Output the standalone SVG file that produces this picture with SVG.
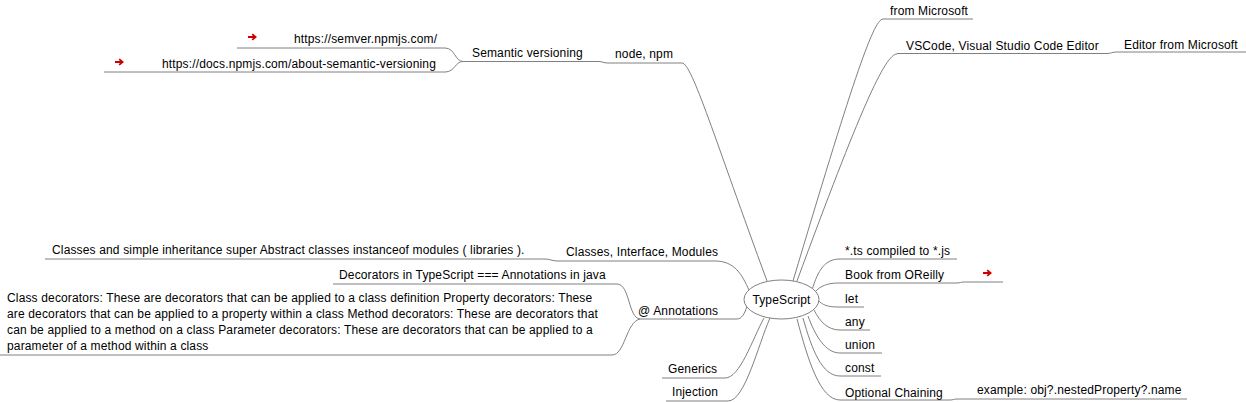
<svg xmlns="http://www.w3.org/2000/svg" width="1246" height="402" viewBox="0 0 1246 402">
<style>
text{font-family:"Liberation Sans",Arial,sans-serif;font-size:12px;fill:#000;letter-spacing:0.15px}
.u{stroke:#808080;stroke-width:1;fill:none}
.e{stroke:#808080;stroke-width:1;fill:none}
.lnk{stroke:#cc0000;stroke-width:1.8;fill:none}
</style>
<defs>
<g id="arrow"><path class="lnk" d="M0 3.5 H7 M4.2 0.6 L7.6 3.5 L4.2 6.4"/></g>
</defs>
<rect width="1246" height="402" fill="#fff"/>
<g id="connectors">
<path class="e" d="M883 19 C873 19 850 90 793 281"/>
<path class="e" d="M897 54 C885 54 860 110 797 281"/>
<path class="e" d="M1107 53.5 C1111 53.5 1112 52 1117 52"/>
<path class="e" d="M682 63 C692 63 715 140 767 281"/>
<path class="e" d="M598 61.5 C603 61.5 603 63 608 63"/>
<path class="e" d="M463 61.5 C455 61.5 455 48 445 48"/>
<path class="e" d="M463 61.5 C455 61.5 455 72 445 72"/>
<path class="e" d="M715 261 C735 261 742 275 749 290"/>
<path class="e" d="M545 259 C550 259 552 261 558 261"/>
<path class="e" d="M737 319 C742 319 745 313 747 306"/>
<path class="e" d="M617 284 C630 284 628 318 640 319"/>
<path class="e" d="M612 355 C625 355 626 322 640 319"/>
<path class="e" d="M725 378 C740 378 752 340 764 318"/>
<path class="e" d="M728 401 C745 401 758 345 770 318"/>
<path class="e" d="M812 290 C818 270 825 259 840 259"/>
<path class="e" d="M815 292 C820 286 828 283 838 283"/>
<path class="e" d="M957 283 C960 283 961 282 964 282"/>
<path class="e" d="M818 300 C822 305 828 307 838 307"/>
<path class="e" d="M814 310 C820 322 828 330 840 330"/>
<path class="e" d="M808 316 C815 335 825 353 840 353"/>
<path class="e" d="M803 318 C812 350 822 376 840 376"/>
<path class="e" d="M797 319 C808 360 820 400 840 400"/>
<path class="e" d="M950 400 C953 400 954 399 957 399"/>
</g>
<g id="root">
<ellipse cx="781.5" cy="299.5" rx="37.5" ry="19.5" fill="#fff" stroke="#808080"/>
<text x="781.5" y="304" text-anchor="middle">TypeScript</text>
</g>
<g id="from-microsoft"><line class="u" x1="883" y1="19" x2="973" y2="19"/><text x="890" y="15">from Microsoft</text></g>
<g id="vscode"><line class="u" x1="897" y1="53.5" x2="1107" y2="53.5"/><text x="906" y="50">VSCode, Visual Studio Code Editor</text></g>
<g id="editor-from-microsoft"><line class="u" x1="1117" y1="52" x2="1246" y2="52"/><text x="1124" y="49">Editor from Microsoft</text></g>
<g id="node-npm"><line class="u" x1="608" y1="63" x2="682" y2="63"/><text x="615" y="58">node, npm</text></g>
<g id="semantic-versioning"><line class="u" x1="463" y1="61.5" x2="598" y2="61.5"/><text x="472" y="57">Semantic versioning</text></g>
<g id="semver-link"><line class="u" x1="237" y1="48" x2="445" y2="48"/><use href="#arrow" x="248" y="33.5"/><text x="294" y="43">https://semver.npmjs.com/</text></g>
<g id="docs-link"><line class="u" x1="104" y1="72" x2="445" y2="72"/><use href="#arrow" x="115" y="58.5"/><text x="162" y="68">https://docs.npmjs.com/about-semantic-versioning</text></g>
<g id="classes-interface-modules"><line class="u" x1="558" y1="261" x2="715" y2="261"/><text x="566" y="256">Classes, Interface, Modules</text></g>
<g id="classes-detail"><line class="u" x1="45" y1="259" x2="545" y2="259"/><text x="52" y="254">Classes and simple inheritance super Abstract classes instanceof modules ( libraries ).</text></g>
<g id="annotations"><line class="u" x1="640" y1="319" x2="737" y2="319"/><text x="638" y="315">@ Annotations</text></g>
<g id="decorators-java"><line class="u" x1="333" y1="284" x2="617" y2="284"/><text x="339" y="279">Decorators in TypeScript === Annotations in java</text></g>
<g id="class-decorators"><line class="u" x1="0" y1="355" x2="612" y2="355"/>
<text x="7" y="302">Class decorators: These are decorators that can be applied to a class definition Property decorators: These</text>
<text x="7" y="318">are decorators that can be applied to a property within a class Method decorators: These are decorators that</text>
<text x="7" y="334">can be applied to a method on a class Parameter decorators: These are decorators that can be applied to a</text>
<text x="7" y="350">parameter of a method within a class</text></g>
<g id="generics"><line class="u" x1="662" y1="378" x2="725" y2="378"/><text x="668" y="373">Generics</text></g>
<g id="injection"><line class="u" x1="666" y1="401" x2="728" y2="401"/><text x="672" y="396">Injection</text></g>
<g id="ts-compiled"><line class="u" x1="840" y1="259" x2="957" y2="259"/><text x="845" y="255">*.ts compiled to *.js</text></g>
<g id="book-oreilly"><line class="u" x1="838" y1="283" x2="957" y2="283"/><text x="845" y="279">Book from OReilly</text></g>
<g id="book-link"><line class="u" x1="964" y1="282" x2="1003" y2="282"/><use href="#arrow" x="983" y="269.5"/></g>
<g id="let"><line class="u" x1="838" y1="307" x2="864" y2="307"/><text x="845" y="303">let</text></g>
<g id="any"><line class="u" x1="840" y1="330" x2="870" y2="330"/><text x="845" y="326">any</text></g>
<g id="union"><line class="u" x1="840" y1="353" x2="882" y2="353"/><text x="845" y="349">union</text></g>
<g id="const"><line class="u" x1="840" y1="376" x2="881" y2="376"/><text x="845" y="372">const</text></g>
<g id="optional-chaining"><line class="u" x1="840" y1="400" x2="950" y2="400"/><text x="845" y="397">Optional Chaining</text></g>
<g id="example-chaining"><line class="u" x1="957" y1="399" x2="1187" y2="399"/><text x="977" y="394">example: obj?.nestedProperty?.name</text></g>
</svg>
